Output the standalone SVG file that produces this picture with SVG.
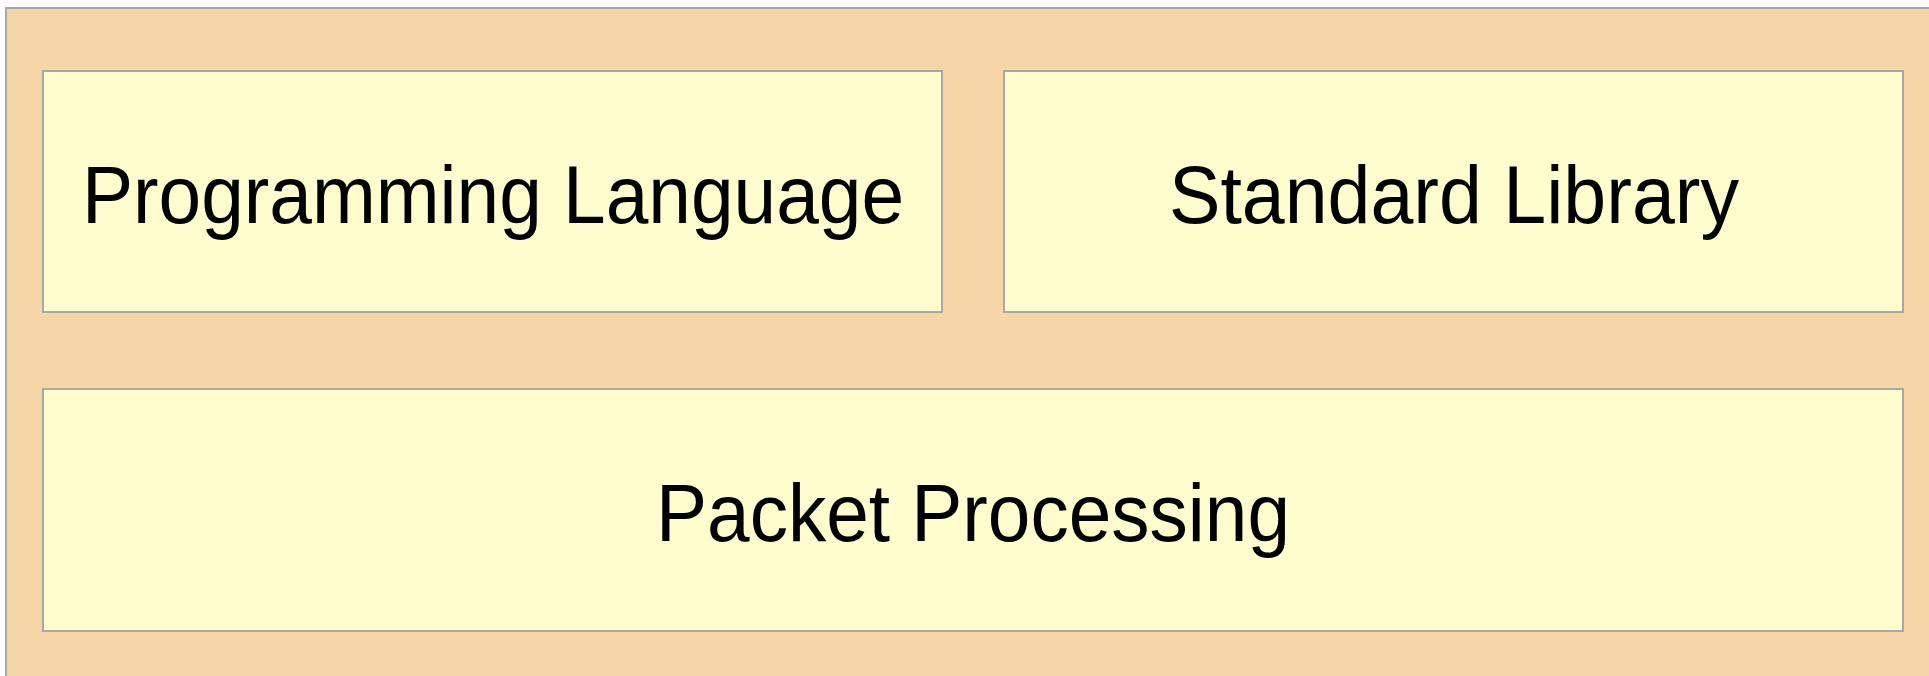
<svg xmlns="http://www.w3.org/2000/svg" width="1929" height="676" viewBox="0 0 1929 676">
  <style>
    .box { fill: #FFFCCD; stroke: #A8A8A8; stroke-width: 2; }
    .outer { fill: #F6D6A6; stroke: #A8A8A8; stroke-width: 2; }
    .label { font-family: "Liberation Sans", Arial, Helvetica, sans-serif; font-size: 81px; fill: #000000; text-anchor: middle; }
  </style>
  <rect width="1929" height="676" fill="#FFFFFF"/>
  <g id="container">
    <rect class="outer" x="6" y="8" width="1940" height="690"/>
  </g>
  <g id="programming-language">
    <rect class="box" x="43" y="71" width="899" height="241"/>
    <text class="label" x="493" y="223" textLength="822" lengthAdjust="spacingAndGlyphs">Programming Language</text>
  </g>
  <g id="standard-library">
    <rect class="box" x="1004" y="71" width="899" height="241"/>
    <text class="label" x="1454" y="223" textLength="570" lengthAdjust="spacingAndGlyphs">Standard Library</text>
  </g>
  <g id="packet-processing">
    <rect class="box" x="43" y="389" width="1860" height="242"/>
    <text class="label" x="973" y="541" textLength="634" lengthAdjust="spacingAndGlyphs">Packet Processing</text>
  </g>
  <g id="connectors"/>
</svg>
